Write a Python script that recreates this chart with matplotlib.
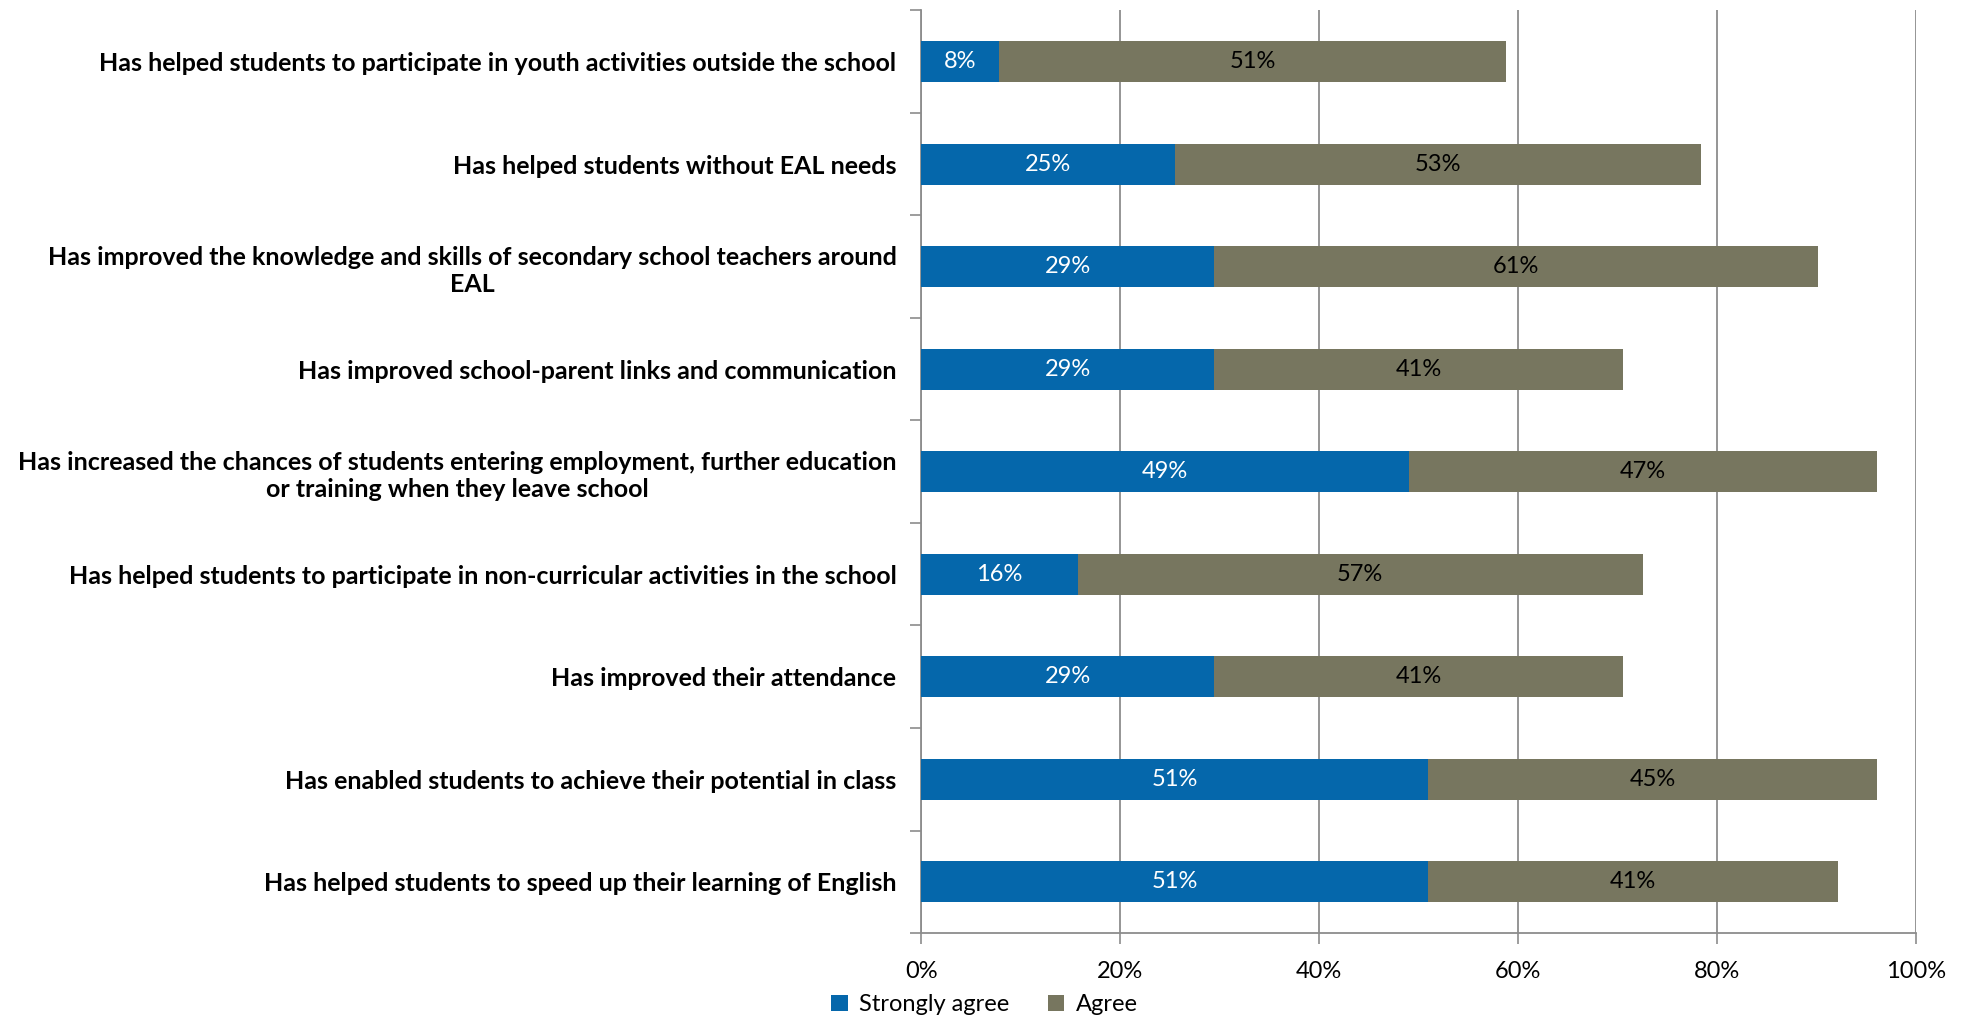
import matplotlib.pyplot as plt
import numpy as np

plt.rcParams['font.family'] = ['Lato', 'DejaVu Sans']

# Survey statements (top to bottom as shown)
statements = [
    "Has helped students to participate in youth activities outside the school",
    "Has helped students without EAL needs",
    "Has improved the knowledge and skills of secondary school teachers around\nEAL",
    "Has improved school-parent links and communication",
    "Has increased the chances of students entering employment, further education\nor training when they leave school",
    "Has helped students to participate in non-curricular activities in the school",
    "Has improved their attendance",
    "Has enabled students to achieve their potential in class",
    "Has helped students to speed up their learning of English",
]

# Percentages of respondents
strongly_agree = [7.84, 25.49, 29.41, 29.41, 49.02, 15.69, 29.41, 50.98, 50.98]
agree = [50.98, 52.94, 60.78, 41.18, 47.06, 56.86, 41.18, 45.10, 41.18]

blue = "#0567ab"
olive = "#77765f"
grid_col = "#8c8c8c"

fig = plt.figure(figsize=(19.69, 10.22), dpi=100)
ax = fig.add_axes([0.468, 0.087, 0.505, 0.903])

y = np.arange(len(statements))
h = 0.40

b1 = ax.barh(y, strongly_agree, h, color=blue, label="Strongly agree", zorder=3)
b2 = ax.barh(y, agree, h, left=strongly_agree, color=olive, label="Agree", zorder=3)

for rect, v in zip(b1, strongly_agree):
    ax.text(rect.get_x() + rect.get_width() / 2, rect.get_y() + h / 2,
            f"{round(v)}%", ha="center", va="center", color="white", fontsize=17, zorder=4)
for rect, v in zip(b2, agree):
    ax.text(rect.get_x() + rect.get_width() / 2, rect.get_y() + h / 2,
            f"{round(v)}%", ha="center", va="center", color="black", fontsize=17, zorder=4)

ax.set_xlim(0, 100)
ax.set_ylim(len(statements) - 0.5, -0.5)
ax.set_xticks(np.arange(0, 101, 20))
ax.set_xticklabels([f"{t}%" for t in range(0, 101, 20)], fontsize=17)

ax.set_yticks(y)
ax.set_yticklabels(statements, fontsize=18, fontweight="bold", ha="right",
                   multialignment="center", linespacing=1.25)
ax.set_yticks(np.arange(-0.5, len(statements), 1), minor=True)
ax.tick_params(axis="y", which="major", length=0, pad=18)
ax.tick_params(axis="y", which="minor", length=8, color=grid_col, width=1.2)
ax.tick_params(axis="x", length=8, color=grid_col, width=1.2, pad=12)

ax.grid(axis="x", color=grid_col, linewidth=1.3, zorder=0)
for s in ["top", "right"]:
    ax.spines[s].set_visible(False)
for s in ["left", "bottom"]:
    ax.spines[s].set_color(grid_col)
    ax.spines[s].set_linewidth(1.3)

fig.legend(loc="lower center", bbox_to_anchor=(0.5, -0.014), ncol=2, frameon=False,
           fontsize=17, handlelength=0.7, handleheight=0.7, columnspacing=1.6,
           handletextpad=0.5)

fig.savefig("out.png", dpi=100)
